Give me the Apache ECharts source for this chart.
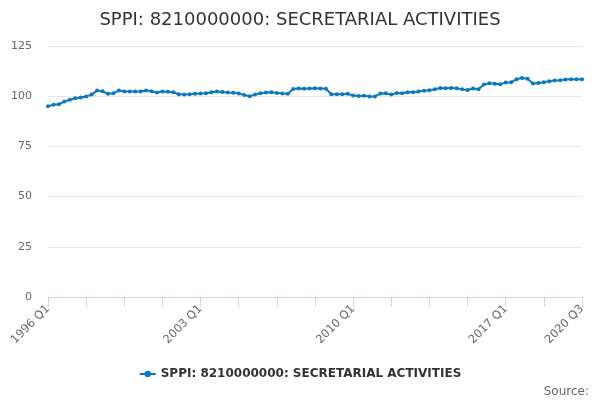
<!DOCTYPE html>
<html>
<head>
<meta charset="utf-8">
<script src="https://cdn.jsdelivr.net/npm/echarts@6/dist/echarts.min.js"></script>
<style>
  html, body { margin: 0; padding: 0; background: #fff; }
  #chart { width: 600px; height: 400px; }
</style>
</head>
<body>
<div id="chart"></div>
<script>
// quarters 1996 Q1 .. 2020 Q3
var quarters = [];
for (var y = 1996; y <= 2020; y++) {
  for (var q = 1; q <= 4; q++) {
    if (y === 2020 && q > 3) break;
    quarters.push(y + " Q" + q);
  }
}

var seriesName = "SPPI: 8210000000: SECRETARIAL ACTIVITIES";

// index values
var values = [
  95.0, 95.7, 96.0, 97.3, 98.2, 99.0, 99.3, 99.8, 100.8, 102.8,
  102.5, 101.2, 101.5, 102.8, 102.3, 102.3, 102.4, 102.3, 102.8, 102.5,
  101.8, 102.3, 102.2, 102.0, 101.0, 100.9, 101.0, 101.2, 101.4, 101.5,
  102.0, 102.3, 102.1, 101.8, 101.7, 101.4, 100.6, 100.0, 100.8, 101.5,
  101.8, 102.0, 101.6, 101.4, 101.2, 103.6, 103.8, 103.7, 103.8, 103.9,
  103.8, 103.7, 101.0, 101.0, 101.0, 101.2, 100.3, 100.1, 100.2, 99.8,
  99.9, 101.3, 101.5, 100.8, 101.6, 101.5, 102.0, 102.0, 102.3, 102.7,
  103.0, 103.5, 104.1, 104.0, 104.1, 104.0, 103.4, 103.1, 103.8, 103.4,
  105.8, 106.4, 106.2, 106.0, 106.8, 106.9, 108.5, 109.1, 108.7, 106.3,
  106.6, 107.0, 107.5, 107.8, 108.0, 108.3, 108.5, 108.5, 108.5
];

var yTicks = [0, 25, 50, 75, 100, 125];

var myChart = echarts.init(document.getElementById("chart"));

var option = {
  animation: false,
  textStyle: { fontFamily: "DejaVu Sans" },
  title: {
    text: seriesName,
    left: "center",
    top: 6,
    textStyle: { fontSize: 18, fontWeight: "normal", color: "#333" }
  },
  legend: {
    bottom: 15,
    left: "center",
    itemWidth: 16,
    itemHeight: 8,
    textStyle: { fontSize: 12, fontWeight: "bold", color: "#333" },
    data: [seriesName]
  },
  graphic: [{
    type: "text",
    right: 11,
    bottom: 2,
    style: { text: "Source:", fontSize: 12, fill: "#666", fontFamily: "DejaVu Sans" }
  }],
  grid: { left: 48, right: 18, top: 46, bottom: 103 },
  xAxis: {
    type: "category",
    data: quarters,
    boundaryGap: false,
    axisLine: { lineStyle: { color: "#ccd6eb" } },
    axisTick: {
      length: 10,
      lineStyle: { color: "#ccd6eb" },
      interval: function (i) { return i % 7 === 0; }
    },
    axisLabel: {
      rotate: 45,
      color: "#666",
      fontSize: 11.5,
      margin: 10,
      interval: function (i) { return i % 28 === 0 || i === quarters.length - 1; }
    }
  },
  yAxis: {
    type: "value",
    min: yTicks[0],
    max: yTicks[yTicks.length - 1],
    interval: 25,
    axisLine: { show: false },
    axisTick: { show: false },
    axisLabel: { color: "#666", fontSize: 11, margin: 16 },
    splitLine: { lineStyle: { color: "#e6e6e6" } }
  },
  series: [{
    name: seriesName,
    type: "line",
    data: values,
    symbol: "circle",
    symbolSize: 4,
    showAllSymbol: true,
    lineStyle: { width: 2, color: "#0b78c0" },
    itemStyle: { color: "#0b78c0" }
  }]
};

myChart.setOption(option);
</script>
</body>
</html>
